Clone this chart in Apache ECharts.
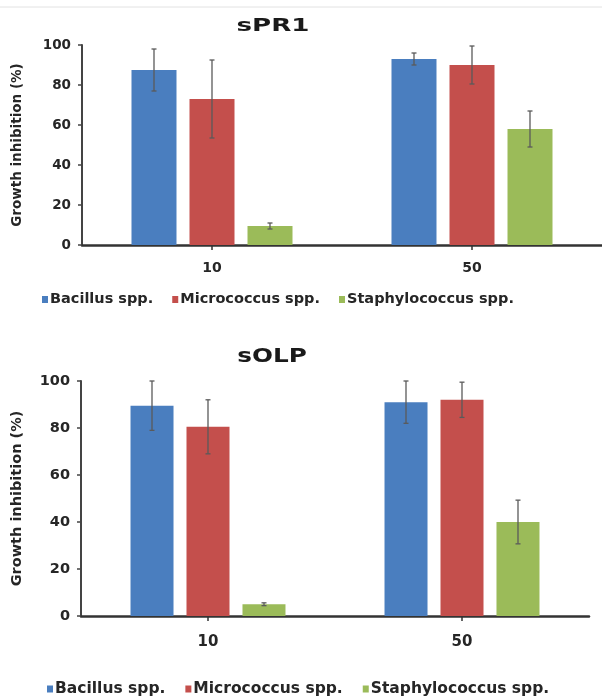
<!DOCTYPE html>
<html>
<head>
<meta charset="utf-8">
<script src="https://cdn.jsdelivr.net/npm/echarts@6.0.0/dist/echarts.min.js"></script>
<style>
  html, body { margin: 0; padding: 0; background: #fff; }
  #chart { width: 602px; height: 697px; }
</style>
</head>
<body>
<div id="chart"></div>
<script>
// categories (concentration) and series names
const categories = ['10', '50']
const seriesNames = ['Bacillus spp.', 'Micrococcus spp.', 'Staphylococcus spp.']
const colors = ['#4a7ebf', '#c44f4c', '#9bbb59']

// sPR1 panel: mean and error (+/-)
const sPR1Bacillus = [87.5, 93]
const sPR1Micrococcus = [73, 90]
const sPR1Staphylococcus = [9.5, 58]
const sPR1BacillusErr = [10.5, 3]
const sPR1MicrococcusErr = [19.5, 9.5]
const sPR1StaphylococcusErr = [1.5, 9]

// sOLP panel
const sOLPBacillus = [89.5, 91]
const sOLPMicrococcus = [80.5, 92]
const sOLPStaphylococcus = [5, 40]
const sOLPBacillusErr = [10.5, 9]
const sOLPMicrococcusErr = [11.5, 7.5]
const sOLPStaphylococcusErr = [0.6, 9.3]

const panels = [
  { title: 'sPR1', values: [sPR1Bacillus, sPR1Micrococcus, sPR1Staphylococcus], errs: [sPR1BacillusErr, sPR1MicrococcusErr, sPR1StaphylococcusErr], barWidth: 45, gap: 13 },
  { title: 'sOLP', values: [sOLPBacillus, sOLPMicrococcus, sOLPStaphylococcus], errs: [sOLPBacillusErr, sOLPMicrococcusErr, sOLPStaphylococcusErr], barWidth: 43, gap: 13 }
]

const textColor = '#262626'
const fontFamily = 'DejaVu Sans, Verdana, sans-serif'

function errorSeries (axisIndex, values, errs, slot, barWidth, gap) {
  const offset = (slot - 1) * (barWidth + gap)
  return {
    type: 'custom',
    xAxisIndex: axisIndex,
    yAxisIndex: axisIndex,
    z: 10,
    silent: true,
    data: values.map((v, i) => [i, v, errs[i]]),
    renderItem (params, api) {
      const c = api.value(0)
      const v = api.value(1)
      const e = api.value(2)
      const x = api.coord([c, v])[0] + offset
      const yTop = api.coord([c, v + e])[1]
      const yBot = api.coord([c, v - e])[1]
      const style = { stroke: '#5a5a5a', lineWidth: 1.3 }
      return {
        type: 'group',
        children: [
          { type: 'line', shape: { x1: x, y1: yTop, x2: x, y2: yBot }, style },
          { type: 'line', shape: { x1: x - 2.5, y1: yTop, x2: x + 2.5, y2: yTop }, style },
          { type: 'line', shape: { x1: x - 2.5, y1: yBot, x2: x + 2.5, y2: yBot }, style }
        ]
      }
    }
  }
}

const grids = [
  { left: 82, right: -4, top: 45, height: 200 },
  { left: 81, right: 13, top: 381, height: 235 }
]

const myChart = echarts.init(document.getElementById('chart'))

const series = []
panels.forEach((p, k) => {
  p.values.forEach((vals, s) => {
    series.push({
      name: seriesNames[s],
      type: 'bar',
      xAxisIndex: k,
      yAxisIndex: k,
      barWidth: p.barWidth,
      barGap: (p.gap / p.barWidth * 100).toFixed(1) + '%',
      itemStyle: { color: colors[s] },
      data: vals
    })
  })
  p.values.forEach((vals, s) => {
    series.push(errorSeries(k, vals, p.errs[s], s, p.barWidth, p.gap))
  })
})

// titles look horizontally stretched in the picture
const titleFont = 'bold 18px "DejaVu Sans", Verdana, sans-serif'

myChart.setOption({
  animation: false,
  textStyle: { fontFamily },
  legend: [
    { data: seriesNames, top: 287, left: 37, icon: 'rect', itemWidth: 6, itemHeight: 7, itemGap: 19, textStyle: { fontSize: 14.5, fontWeight: 'bold', color: textColor, padding: [0, 0, 0, -3] } },
    { data: seriesNames, top: 676, left: 42, icon: 'rect', itemWidth: 6, itemHeight: 7, itemGap: 20, textStyle: { fontSize: 15.5, fontWeight: 'bold', color: textColor, padding: [0, 0, 0, -3] } }
  ],
  grid: grids,
  xAxis: grids.map((g, k) => ({
    type: 'category',
    gridIndex: k,
    data: categories,
    axisLine: { lineStyle: { color: '#333', width: 2.5 } },
    axisTick: { show: true, alignWithLabel: true, length: 5, lineStyle: { color: '#333', width: 1.5 } },
    axisLabel: { color: textColor, fontSize: k === 0 ? 14 : 15, fontWeight: 'bold', margin: k === 0 ? 16 : 19 }
  })),
  yAxis: grids.map((g, k) => ({
    type: 'value',
    gridIndex: k,
    min: 0,
    max: 100,
    interval: 20,
    name: 'Growth inhibition (%)',
    nameLocation: 'middle',
    nameRotate: 90,
    nameGap: k === 0 ? 58 : 56,
    nameTextStyle: { color: textColor, fontSize: k === 0 ? 13.5 : 14.5, fontWeight: 'bold' },
    splitLine: { show: false },
    axisLine: { show: true, lineStyle: { color: '#444', width: 2 } },
    axisTick: { show: true, length: 4, lineStyle: { color: '#444', width: 1.5 } },
    axisLabel: { color: textColor, fontSize: k === 0 ? 13.5 : 14.5, fontWeight: 'bold', margin: 11 }
  })),
  graphic: [
    { type: 'line', shape: { x1: 0, y1: 7, x2: 602, y2: 7 }, style: { stroke: '#e2e2e2', lineWidth: 1 } },
    { type: 'text', x: 273, y: 26, scaleX: 1.45, style: { text: panels[0].title, font: titleFont, fill: '#1a1a1a', align: 'center', verticalAlign: 'middle' } },
    { type: 'text', x: 272, y: 357, scaleX: 1.3, style: { text: panels[1].title, font: 'bold 19px "DejaVu Sans", Verdana, sans-serif', fill: '#1a1a1a', align: 'center', verticalAlign: 'middle' } }
  ],
  series
})
</script>
</body>
</html>
